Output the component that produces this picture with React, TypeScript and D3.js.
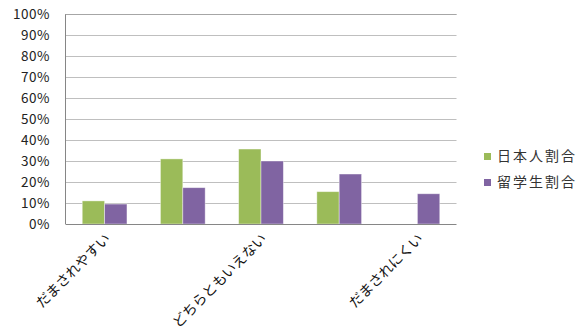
import React from "react";
import * as d3 from "d3";

const categories = [
  "だまされやすい",
  "どちらかといえばだまされやすい",
  "どちらともいえない",
  "どちらかといえばだまされにくい",
  "だまされにくい",
];
const shownLabels = [true, false, true, false, true];
const seriesNames = ["日本人割合", "留学生割合"];
const japanese = [0.11, 0.31, 0.357, 0.154, 0];
const foreign = [0.095, 0.173, 0.30, 0.238, 0.144];
const yTicks = [0, 0.1, 0.2, 0.3, 0.4, 0.5, 0.6, 0.7, 0.8, 0.9, 1.0];
const colors = ["#9BBB59", "#8064A2"];

export default function App() {
  const W = 587, H = 335;
  const left = 65.5, right = 456.5, top = 14, bottom = 224;
  const x = d3.scaleBand<string>().domain(categories).range([left, right]).paddingInner(0).paddingOuter(0);
  const y = d3.scaleLinear().domain([0, 1]).range([bottom, top]);
  const bw = x.bandwidth();
  const barW = bw * 0.286;
  const series = [japanese, foreign];
  const fmt = d3.format(".0%");
  return (
    <svg width={W} height={H} style={{ position: "absolute", left: 0, top: 0, background: "#fff" }}
      fontFamily="'Noto Sans CJK JP', 'Noto Sans', sans-serif">
      {yTicks.map((t) => (
        <g key={t}>
          {t > 0 && (
            <line x1={left} x2={right} y1={Math.round(y(t)) + 0.5} y2={Math.round(y(t)) + 0.5} stroke="#BFBFBF" strokeWidth={1} />
          )}
          <text x={50} y={y(t)} dy="0.35em" textAnchor="end" fontSize={13.5} fill="#222" letterSpacing={0.5}>
            {fmt(t)}
          </text>
        </g>
      ))}
      {categories.map((c, i) => {
        const cx = (x(c) as number) + bw / 2;
        return (
          <g key={c}>
            {series.map((s, k) => {
              const v = s[i];
              if (v <= 0) return null;
              const x0 = cx - barW + k * barW;
              return (
                <rect key={k} x={x0} y={y(v)} width={barW} height={bottom - y(v)} fill={colors[k]}
                  stroke="#fff" strokeOpacity={0.5} strokeWidth={0.8} />
              );
            })}
            {shownLabels[i] && (
              <text transform={`translate(${cx + 3},${bottom + 12}) rotate(-45)`} textAnchor="end"
                dy="0.35em" fontSize={14} fill="#111">
                {c}
              </text>
            )}
          </g>
        );
      })}
      <line x1={left} x2={left} y1={top} y2={bottom} stroke="#868686" strokeWidth={1} />
      <line x1={left} x2={right} y1={bottom + 0.5} y2={bottom + 0.5} stroke="#868686" strokeWidth={1} />
      <line x1={left} x2={right} y1={top + 0.5} y2={top + 0.5} stroke="#A6A6A6" strokeWidth={1} />
      {seriesNames.map((n, k) => (
        <g key={n}>
          <rect x={484} y={153 + k * 26} width={7} height={7} fill={colors[k]} />
          <text x={497} y={156.5 + k * 26} dy="0.35em" fontSize={14} letterSpacing={2} fill="#333">
            {n}
          </text>
        </g>
      ))}
    </svg>
  );
}
